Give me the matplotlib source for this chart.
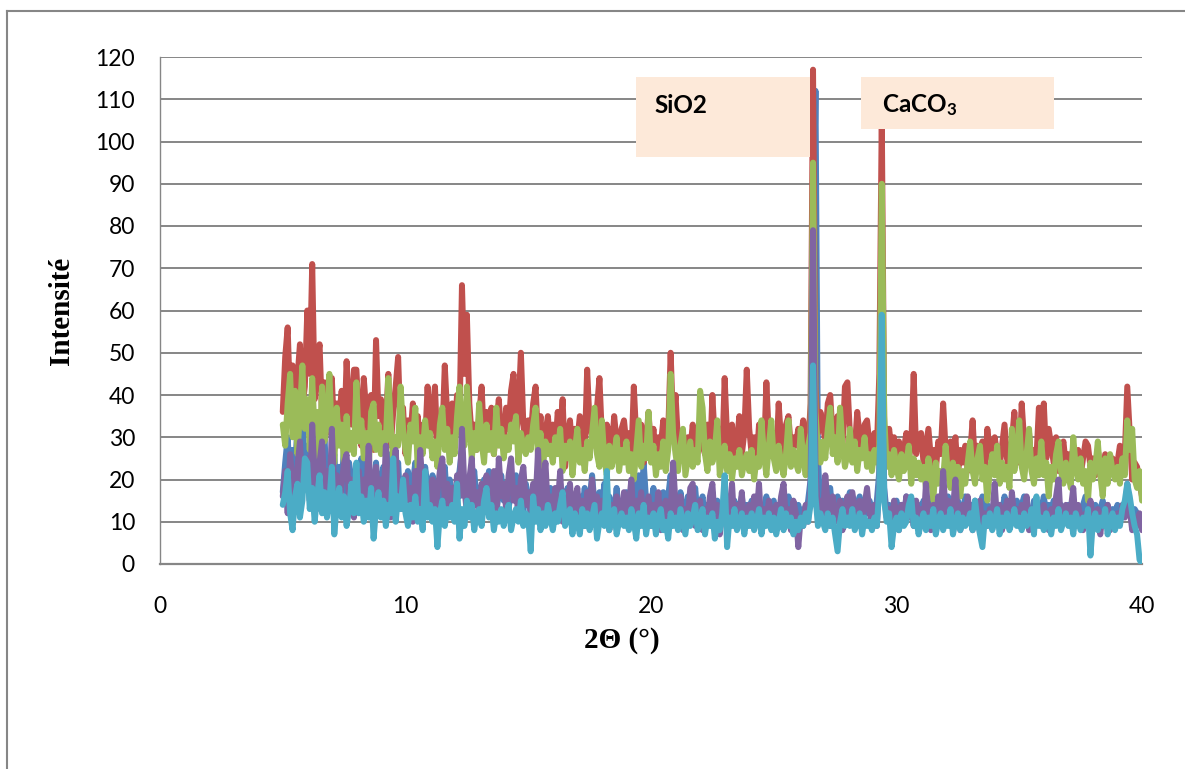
import numpy as np
import matplotlib
matplotlib.use("Agg")
import matplotlib.pyplot as plt
from matplotlib.patches import Rectangle
from matplotlib.lines import Line2D

# scan grid: 5.0 .. 40.0 deg, step 0.1 (one row below = one degree)
TWO_THETA = np.round(np.linspace(5.0, 40.0, 351), 1)

BLUE = [
    17, 24, 30, 19, 27, 22, 33, 25, 36, 21,
    28, 19, 31, 24, 17, 27, 22, 30, 18, 25,
    21, 26, 15, 23, 19, 28, 17, 24, 20, 14,
    22, 17, 25, 19, 27, 15, 21, 18, 24, 16,
    19, 23, 14, 26, 18, 21, 16, 24, 13, 20,
    17, 22, 15, 19, 24, 14, 20, 16, 23, 18,
    15, 21, 18, 13, 19, 16, 23, 14, 20, 17,
    14, 19, 22, 27, 16, 20, 13, 18, 22, 15,
    18, 13, 20, 16, 22, 14, 19, 12, 17, 21,
    15, 19, 13, 18, 16, 21, 14, 17, 12, 19,
    16, 12, 18, 14, 20, 13, 17, 15, 11, 18,
    14, 17, 12, 19, 15, 13, 18, 11, 16, 14,
    12, 16, 13, 18, 11, 15, 21, 14, 12, 17,
    13, 19, 11, 16, 14, 12, 18, 10, 15, 13,
    17, 11, 14, 22, 13, 21, 12, 24, 15, 11,
    14, 18, 12, 15, 11, 17, 13, 16, 21, 12,
    15, 11, 17, 13, 10, 16, 12, 14, 18, 11,
    13, 16, 10, 14, 12, 17, 11, 15, 13, 10,
    14, 11, 16, 12, 15, 10, 13, 16, 11, 14,
    12, 15, 11, 13, 10, 14, 12, 16, 11, 13,
    15, 11, 13, 10, 14, 12, 16, 11, 13, 12,
    14, 10, 13, 12, 15, 20, 70, 112, 25, 13,
    17, 12, 15, 18, 11, 14, 16, 12, 15, 13,
    14, 17, 12, 15, 13, 16, 11, 14, 12, 15,
    13, 11, 15, 22, 55, 18, 12, 14, 11, 13,
    15, 12, 14, 11, 16, 13, 12, 15, 11, 14,
    12, 15, 11, 14, 13, 16, 12, 14, 11, 15,
    13, 16, 12, 14, 11, 15, 13, 12, 16, 11,
    14, 12, 15, 11, 13, 16, 12, 14, 11, 13,
    15, 11, 14, 12, 16, 13, 11, 14, 12, 15,
    12, 14, 16, 11, 13, 12, 15, 11, 14, 13,
    16, 12, 14, 11, 15, 13, 12, 14, 11, 13,
    14, 12, 15, 11, 13, 12, 14, 16, 11, 13,
    12, 14, 11, 13, 15, 12, 14, 11, 13, 12,
    14, 11, 13, 12, 18, 14, 11, 13, 12, 10,
    9,
]

RED = [
    36, 49, 56, 38, 47, 33, 44, 52, 37, 42,
    60, 45, 71, 39, 48, 52, 35, 43, 31, 40,
    44, 30, 38, 35, 41, 29, 48, 37, 33, 46,
    46, 34, 28, 44, 36, 31, 40, 27, 53, 35,
    39, 30, 33, 45, 28, 36, 42, 49, 31, 37,
    26, 34, 30, 38, 31, 35, 27, 33, 29, 42,
    29, 36, 42, 27, 33, 30, 47, 35, 28, 38,
    31, 40, 34, 66, 45, 59, 38, 30, 33, 27,
    35, 42, 29, 36, 31, 37, 26, 33, 39, 30,
    28, 37, 32, 41, 45, 30, 36, 50, 33, 27,
    34, 30, 38, 42, 29, 35, 25, 31, 35, 28,
    33, 27, 36, 31, 39, 23, 30, 34, 26, 32,
    29, 35, 31, 27, 46, 33, 30, 28, 37, 44,
    30, 26, 33, 31, 27, 35, 29, 24, 32, 34,
    28, 31, 25, 42, 30, 27, 33, 24, 29, 36,
    27, 32, 25, 30, 28, 34, 26, 31, 50, 33,
    40, 29, 26, 31, 24, 30, 27, 33, 25, 29,
    31, 28, 26, 33, 24, 40, 29, 27, 32, 25,
    44, 30, 27, 33, 24, 29, 35, 26, 31, 46,
    32, 26, 30, 24, 33, 28, 25, 43, 30, 27,
    31, 24, 38, 29, 26, 33, 35, 27, 30, 28,
    32, 29, 34, 30, 27, 38, 117, 42, 31, 36,
    33, 29, 38, 40, 30, 27, 35, 31, 28, 42,
    43, 31, 29, 27, 36, 30, 26, 33, 34, 28,
    25, 31, 27, 45, 106, 33, 26, 32, 27, 30,
    24, 29, 22, 27, 31, 25, 28, 45, 26, 30,
    31, 24, 28, 32, 25, 27, 22, 29, 26, 38,
    27, 23, 29, 25, 30, 21, 27, 24, 28, 22,
    26, 34, 23, 28, 25, 29, 22, 32, 27, 24,
    30, 26, 23, 28, 33, 25, 22, 29, 36, 27,
    24, 38, 29, 26, 31, 23, 27, 25, 37, 30,
    38, 25, 32, 28, 24, 30, 22, 27, 29, 23,
    26, 22, 28, 24, 27, 21, 25, 29, 28, 23,
    25, 21, 27, 23, 20, 26, 24, 22, 25, 21,
    24, 28, 22, 26, 42, 31, 20, 24, 23, 19,
    16,
]

GREEN = [
    33, 28, 38, 45, 30, 41, 26, 36, 47, 32,
    39, 27, 44, 31, 36, 25, 42, 29, 34, 45,
    30, 24, 37, 28, 33, 23, 35, 27, 31, 26,
    43, 29, 34, 25, 31, 22, 36, 38, 27, 33,
    26, 31, 29, 44, 33, 24, 30, 28, 42, 32,
    27, 24, 33, 29, 37, 22, 30, 26, 34, 28,
    31, 25, 29, 23, 33, 37, 27, 32, 24, 30,
    26, 35, 42, 30, 28, 42, 33, 25, 31, 27,
    38, 29, 24, 33, 27, 31, 26, 37, 28, 32,
    25, 30, 27, 33, 29, 35, 24, 31, 28, 26,
    30, 27, 33, 37, 25, 31, 23, 29, 26, 28,
    24, 30, 26, 32, 22, 28, 25, 29, 21, 27,
    32, 24, 27, 22, 29, 25, 31, 37, 26, 23,
    34, 25, 21, 28, 23, 26, 30, 22, 27, 24,
    29, 22, 26, 20, 27, 34, 23, 28, 25, 36,
    24, 28, 21, 26, 23, 29, 22, 27, 45, 31,
    26, 22, 28, 32, 21, 25, 29, 23, 27, 24,
    41, 37, 26, 22, 29, 24, 27, 34, 21, 25,
    28, 22, 26, 20, 25, 23, 27, 21, 24, 26,
    22, 27, 20, 25, 23, 34, 26, 21, 28, 34,
    25, 22, 28, 24, 21, 26, 34, 23, 27, 24,
    22, 32, 25, 21, 28, 31, 95, 36, 27, 24,
    29, 25, 32, 37, 26, 30, 24, 37, 28, 23,
    26, 32, 24, 29, 22, 27, 25, 30, 23, 26,
    22, 27, 24, 28, 90, 35, 23, 26, 21, 27,
    23, 20, 26, 22, 24, 28, 19, 25, 21, 24,
    20, 23, 18, 25, 21, 15, 24, 19, 22, 20,
    28, 21, 18, 24, 20, 23, 16, 22, 19, 24,
    29, 22, 19, 25, 28, 20, 23, 15, 22, 26,
    21, 28, 19, 24, 20, 23, 18, 32, 22, 26,
    34, 23, 20, 26, 32, 22, 19, 25, 21, 29,
    21, 24, 16, 23, 20, 26, 29, 22, 19, 24,
    21, 18, 30, 23, 20, 25, 19, 22, 15, 24,
    20, 23, 29, 21, 16, 25, 19, 26, 22, 20,
    23, 19, 25, 21, 34, 27, 32, 20, 18, 22,
    15,
]

PURPLE = [
    16, 22, 12, 26, 19, 14, 23, 29, 17, 21,
    25, 15, 33, 20, 13, 24, 29, 18, 22, 14,
    32, 17, 21, 12, 19, 24, 26, 15, 20, 11,
    18, 22, 13, 20, 16, 28, 12, 19, 23, 15,
    20, 14, 28, 17, 11, 22, 27, 16, 19, 13,
    21, 15, 18, 10, 22, 13, 27, 17, 12, 19,
    14, 20, 11, 17, 22, 25, 15, 19, 12, 18,
    13, 21, 16, 32, 18, 12, 20, 25, 14, 17,
    11, 19, 15, 21, 13, 17, 22, 10, 25, 16,
    19, 13, 21, 25, 15, 18, 11, 20, 23, 14,
    17, 12, 19, 15, 27, 11, 18, 24, 13, 16,
    12, 18, 14, 22, 10, 17, 13, 19, 11, 15,
    18, 11, 15, 9, 17, 13, 20, 12, 16, 10,
    15, 12, 17, 8, 14, 11, 16, 10, 13, 17,
    11, 14, 20, 9, 15, 12, 17, 10, 13, 16,
    9, 14, 11, 17, 8, 13, 15, 10, 12, 24,
    14, 10, 16, 8, 13, 11, 18, 19, 9, 12,
    15, 8, 13, 11, 16, 19, 10, 14, 7, 12,
    16, 10, 13, 19, 9, 14, 11, 17, 8, 12,
    14, 9, 16, 11, 19, 8, 13, 10, 15, 12,
    9, 14, 11, 16, 19, 10, 13, 8, 15, 12,
    4, 11, 9, 14, 10, 18, 79, 22, 12, 15,
    11, 21, 14, 9, 16, 12, 10, 15, 8, 13,
    16, 10, 17, 13, 9, 15, 11, 14, 18, 12,
    10, 14, 9, 20, 45, 16, 11, 13, 9, 15,
    12, 8, 14, 10, 16, 11, 13, 9, 15, 11,
    13, 9, 19, 12, 8, 14, 10, 16, 11, 22,
    12, 15, 9, 13, 20, 11, 8, 14, 10, 16,
    11, 8, 14, 10, 15, 7, 12, 9, 13, 11,
    19, 10, 14, 8, 12, 15, 9, 17, 11, 13,
    9, 14, 11, 16, 8, 13, 10, 15, 12, 9,
    14, 11, 8, 13, 10, 16, 20, 9, 12, 14,
    10, 13, 18, 9, 14, 11, 8, 12, 10, 15,
    11, 9, 13, 7, 12, 10, 14, 8, 11, 9,
    12, 10, 14, 11, 19, 13, 8, 11, 9, 12,
    8,
]

CYAN = [
    14, 17, 22, 12, 8, 16, 19, 11, 15, 25,
    24, 13, 18, 10, 16, 21, 12, 17, 11, 15,
    23, 7, 14, 18, 11, 16, 9, 13, 19, 12,
    24, 12, 16, 10, 15, 11, 18, 6, 13, 17,
    11, 15, 9, 14, 12, 25, 10, 16, 13, 20,
    12, 9, 14, 11, 16, 10, 13, 8, 22, 11,
    14, 10, 13, 4, 12, 15, 9, 13, 11, 14,
    10, 19, 6, 13, 9, 15, 11, 14, 8, 12,
    13, 9, 15, 18, 11, 14, 8, 12, 10, 13,
    9, 12, 14, 8, 11, 13, 10, 15, 9, 12,
    11, 3, 16, 10, 13, 8, 12, 9, 14, 11,
    8, 12, 10, 14, 17, 9, 11, 13, 7, 12,
    10, 7, 13, 9, 12, 8, 11, 14, 6, 10,
    12, 9, 22, 8, 11, 13, 7, 10, 12, 9,
    11, 8, 13, 10, 6, 12, 9, 14, 7, 11,
    9, 12, 7, 11, 13, 8, 10, 6, 12, 9,
    11, 8, 13, 10, 7, 12, 9, 11, 14, 8,
    10, 13, 7, 11, 9, 12, 6, 10, 8, 12,
    21, 4, 11, 9, 13, 8, 10, 12, 7, 11,
    9, 12, 8, 10, 13, 7, 11, 9, 12, 8,
    11, 7, 10, 13, 8, 12, 9, 11, 7, 10,
    8, 11, 9, 12, 10, 14, 47, 16, 9, 12,
    10, 8, 12, 9, 11, 7, 3, 10, 13, 9,
    11, 9, 13, 8, 10, 12, 7, 11, 9, 10,
    8, 11, 9, 18, 59, 15, 10, 12, 4, 9,
    11, 8, 12, 9, 10, 14, 16, 9, 11, 7,
    10, 12, 8, 11, 9, 13, 7, 10, 12, 8,
    11, 9, 13, 7, 10, 12, 8, 11, 9, 10,
    12, 8, 15, 10, 7, 4, 11, 9, 12, 8,
    10, 13, 7, 11, 9, 12, 8, 10, 13, 9,
    11, 8, 12, 9, 10, 13, 7, 16, 9, 11,
    8, 12, 10, 7, 11, 9, 13, 8, 10, 12,
    9, 11, 7, 12, 10, 8, 11, 9, 13, 2,
    10, 12, 8, 11, 9, 13, 7, 10, 12, 8,
    11, 9, 13, 15, 19, 16, 12, 9, 7, 1,
    0,
]

# excel 2007 palette, drawn in series order
SERIES = [("blue", BLUE, "#4F81BD"), ("red", RED, "#C0504D"),
          ("green", GREEN, "#9BBB59"), ("purple", PURPLE, "#8064A2"),
          ("cyan", CYAN, "#4BACC6")]

X_TICKS = [0, 10, 20, 30, 40]
Y_TICKS = list(range(0, 121, 10))

GRID = "#868686"
BOX = "#FDE9D9"
W, H = 1185, 769

plt.rcParams["mathtext.fontset"] = "custom"
plt.rcParams["mathtext.bf"] = "Lato:bold"
plt.rcParams["mathtext.rm"] = "Lato:bold"

fig = plt.figure(figsize=(W / 100, H / 100), dpi=100)
ax = fig.add_axes([160 / W, 1 - 564 / H, 982 / W, 507 / H])

for name, ys, col in SERIES:
    assert len(ys) == len(TWO_THETA), name
    ax.plot(TWO_THETA, ys, color=col, lw=4.3, solid_joinstyle="round",
            solid_capstyle="round", zorder=3)

ax.set_xlim(0, 40)
ax.set_ylim(0, 120)
ax.set_xticks(X_TICKS)
ax.set_yticks(Y_TICKS)
ax.tick_params(length=0, labelsize=16.5, labelcolor="black")
ax.tick_params(axis="x", pad=23)
ax.tick_params(axis="y", pad=18)
for lab in ax.get_xticklabels() + ax.get_yticklabels():
    lab.set_family("Lato")
ax.yaxis.grid(True, color=GRID, lw=1.4)
ax.set_axisbelow(True)
for s in ("top", "right"):
    ax.spines[s].set_visible(False)
ax.spines["left"].set_color(GRID)
ax.spines["left"].set_linewidth(1.0)
ax.spines["bottom"].set_color(GRID)
ax.spines["bottom"].set_linewidth(1.6)

# peak labels
ax.add_patch(Rectangle((19.39, 96.3), 26.48 - 19.39, 115.3 - 96.3,
                       facecolor=BOX, edgecolor="none", zorder=5))
ax.add_patch(Rectangle((28.55, 103.0), 36.42 - 28.55, 115.3 - 103.0,
                       facecolor=BOX, edgecolor="none", zorder=5))
ax.text(20.16, 108.6, "SiO2", fontsize=17.5, fontweight="bold", family="Lato",
        va="center", ha="left", zorder=6)
ax.text(29.41, 108.6, r"CaCO$\mathbf{_3}$", fontsize=17.5, fontweight="bold",
        family="Lato", va="center", ha="left", zorder=6)

# axis titles
fig.text(62 / W, 1 - 311 / H, "Intensité", rotation=90, ha="center", va="center",
         family="Liberation Serif", fontweight="bold", fontsize=21)
fig.text(622 / W, 1 - 640 / H, "2Θ (°)", ha="center", va="center",
         family="Liberation Serif", fontweight="bold", fontsize=21)

# chart-area border (only top and left fall inside the picture)
fig.add_artist(Line2D([7 / W, 1], [1 - 11 / H, 1 - 11 / H], color=GRID, lw=1.5))
fig.add_artist(Line2D([7 / W, 7 / W], [0, 1 - 11 / H], color=GRID, lw=1.5))

fig.savefig("out.png", dpi=100)
